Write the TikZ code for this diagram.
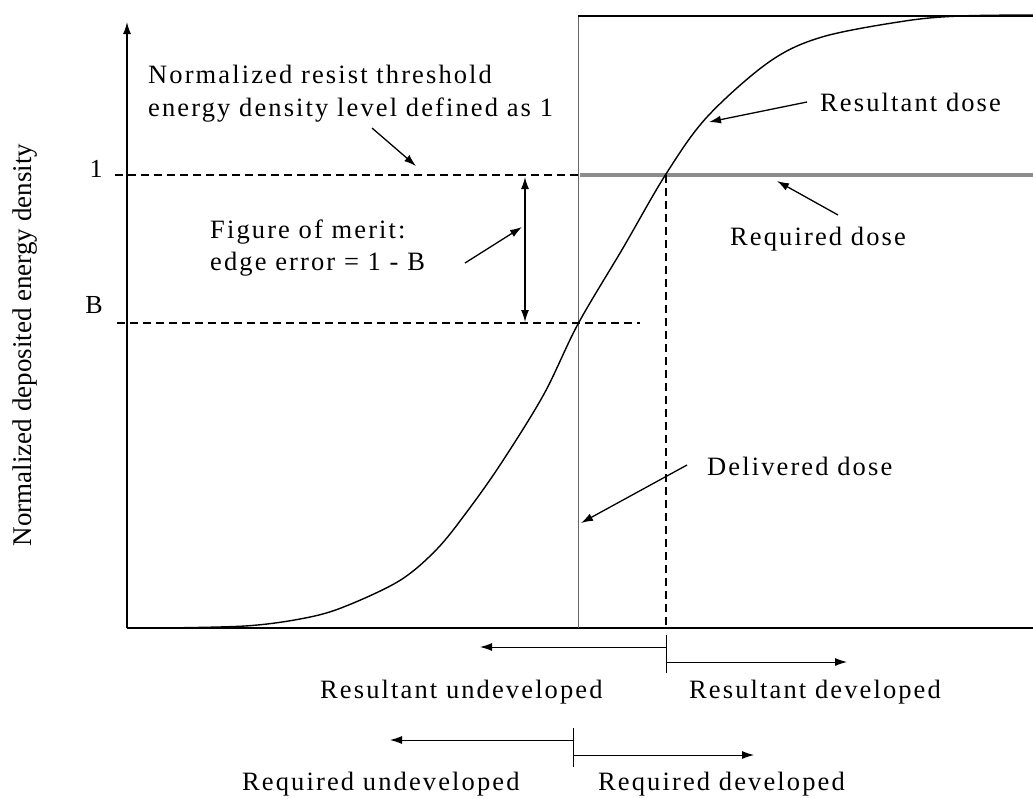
\documentclass[tikz,border=0pt]{standalone}
\usepackage{fontspec}
\setmainfont{Liberation Serif}
\newfontfamily\lblfont{Liberation Serif}[LetterSpace=8]
\usetikzlibrary{arrows.meta}
\begin{document}
\begin{tikzpicture}[x=1pt,y=-1pt,
  lbl/.style={font=\lblfont\fontsize{26.5}{30}\selectfont, inner sep=0pt, anchor=base west},
  tick/.style={font=\fontsize{26}{30}\selectfont, inner sep=0pt, anchor=base},
  axisline/.style={line width=1.4pt},
  tip/.style={-{Latex[length=12pt,width=8pt]}},
  ptr/.style={line width=1.3pt, tip},
  guide/.style={line width=1.2pt, dash pattern=on 8pt off 5pt},
  bar/.style={line width=1pt},
]
\useasboundingbox (0,0) rectangle (1033,798);

% axes
\coordinate (O) at (127,628);
\coordinate (ytop) at (127,22);
\coordinate (xend) at (1033,628);
\draw[axisline, tip] (O) -- (ytop);
\draw[axisline] (O) -- (xend);
\node[font=\fontsize{27}{30}\selectfont, rotate=90, inner sep=0pt] (ylab) at (25,345)
  {Normalized deposited energy density};

% level marks
\node[tick] (one) at (96,177) {1};
\node[tick] (bee) at (94,313) {B};
\coordinate (oneL) at (115,175);
\coordinate (oneR) at (578,175);
\coordinate (beeL) at (117,323);
\coordinate (beeR) at (640,323);
\draw[guide] (oneL) -- (oneR);
\draw[guide] (beeL) -- (beeR);

% delivered dose (step)
\coordinate (dBot) at (578,628);
\coordinate (dTop) at (578,16);
\coordinate (dEnd) at (1033,16);
\draw[line width=0.9pt, black!60] (dBot) -- (dTop);
\draw[line width=1.3pt] (dTop) -- (dEnd);

% required dose
\coordinate (rqL) at (580,175);
\coordinate (rqR) at (1033,175);
\draw[line width=3.5pt, black!45] (rqL) -- (rqR);

% resultant dose curve
\draw[line width=1.4pt] plot[smooth, tension=0.55] coordinates {
  (160,628) (245,626) (300,619) (341,608) (399,581) (437,549) (469,509)
  (502,462) (544,394) (578,324) (623,248) (666,174) (707,117) (769,62)
  (822,37) (905,21) (960,16) (1033,15)};

% threshold crossing
\coordinate (xTop) at (666,175);
\coordinate (xBot) at (666,628);
\draw[guide] (xTop) -- (xBot);

% edge error span
\coordinate (eTop) at (525,177);
\coordinate (eBot) at (525,322);
\draw[line width=1.3pt, {Latex[length=12pt,width=8pt]}-{Latex[length=12pt,width=8pt]}] (eTop) -- (eBot);

% labels
\node[lbl] (thr1) at (148,83) {Normalized resist threshold};
\node[lbl] (thr2) at (148,116) {energy density level defined as 1};
\node[lbl] (resd) at (820,111) {Resultant dose};
\node[lbl] (reqd) at (730,245) {Required dose};
\node[lbl] (fom1) at (210,238) {Figure of merit:};
\node[lbl] (fom2) at (210,270) {edge error = 1 - B};
\node[lbl] (deld) at (707,475) {Delivered dose};

% pointers
\coordinate (thrA) at (372,128);
\coordinate (thrB) at (416,166);
\draw[ptr] (thrA) -- (thrB);
\coordinate (resA) at (807,102);
\coordinate (resB) at (709,122);
\draw[ptr] (resA) -- (resB);
\coordinate (reqA) at (838,215);
\coordinate (reqB) at (777,181);
\draw[ptr] (reqA) -- (reqB);
\coordinate (fomA) at (465,263);
\coordinate (fomB) at (522,227);
\draw[ptr] (fomA) -- (fomB);
\coordinate (delA) at (687,465);
\coordinate (delB) at (581,523);
\draw[ptr] (delA) -- (delB);

% resultant regions
\coordinate (rsT) at (666,635);
\coordinate (rsB) at (666,673);
\draw[bar] (rsT) -- (rsB);
\coordinate (rsU0) at (666,647);
\coordinate (rsU1) at (480,647);
\coordinate (rsD0) at (666,662);
\coordinate (rsD1) at (847,662);
\draw[bar, tip] (rsU0) -- (rsU1);
\draw[bar, tip] (rsD0) -- (rsD1);
\node[lbl] (rsUl) at (320,698) {Resultant undeveloped};
\node[lbl] (rsDl) at (689,698) {Resultant developed};

% required regions
\coordinate (rqT) at (573,728);
\coordinate (rqB) at (573,767);
\draw[bar] (rqT) -- (rqB);
\coordinate (rqU0) at (573,740);
\coordinate (rqU1) at (390,740);
\coordinate (rqD0) at (573,755);
\coordinate (rqD1) at (754,755);
\draw[bar, tip] (rqU0) -- (rqU1);
\draw[bar, tip] (rqD0) -- (rqD1);
\node[lbl] (rqUl) at (242,790) {Required undeveloped};
\node[lbl] (rqDl) at (598,790) {Required developed};
\end{tikzpicture}
\end{document}
